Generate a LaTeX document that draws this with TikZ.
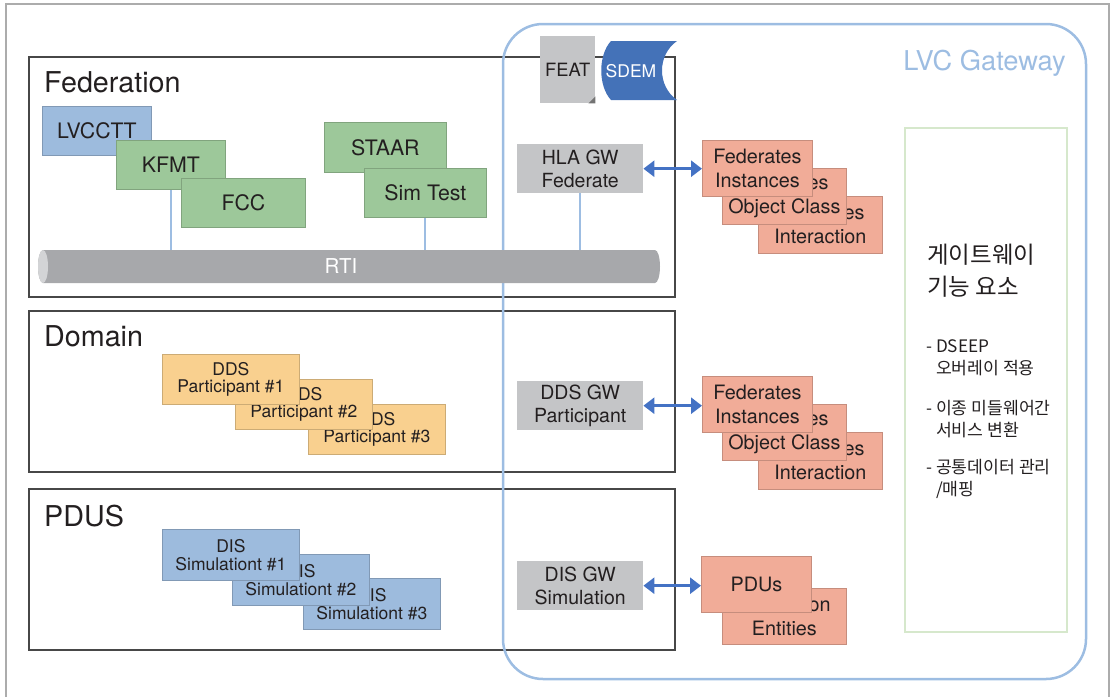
\documentclass[tikz,border=0pt]{standalone}
\usepackage{fontspec}
\setmainfont{TeX Gyre Heros}
\newfontfamily\kor{Noto Sans CJK KR}
\usetikzlibrary{arrows.meta}
\definecolor{ink}{HTML}{231F20}
\definecolor{lvcblue}{HTML}{9DBDE2}
\definecolor{cardblue}{HTML}{9DBBDD}
\definecolor{cardgreen}{HTML}{9DC89A}
\definecolor{cardorange}{HTML}{F9D08F}
\definecolor{salmon}{HTML}{F1AC98}
\definecolor{gwgray}{HTML}{C4C5C7}
\definecolor{rtigray}{HTML}{A7A8AB}
\definecolor{rtiend}{HTML}{D3D4D6}
\definecolor{arrowblue}{HTML}{4472C4}
\definecolor{sdemblue}{HTML}{4472B8}
\definecolor{panelgreen}{HTML}{D6E8CC}
\newcommand{\card}[6]{\node[#1,anchor=north west,minimum width=#4,minimum height=#5] (#2) at (#3) {#6};}

\begin{document}
\begin{tikzpicture}[x=1pt,y=-1pt,
  card/.style={draw=#1!82!black,fill=#1,line width=0.8pt,inner sep=0pt,align=center,text=ink},
  bigcard/.style={card=#1,font=\fontsize{21.3}{24}\selectfont},
  smallcard/.style={card=#1,font=\fontsize{17.5}{17.5}\selectfont},
  salm/.style={card=salmon,font=\fontsize{19.8}{24}\selectfont},
  gw/.style={fill=gwgray,inner sep=0pt,align=center,text=ink,font=\fontsize{19.5}{23}\selectfont},
  title/.style={anchor=base west,inner sep=0pt,text=ink,font=\fontsize{28.7}{30}\selectfont},
  secline/.style={black!72,line width=1.3pt},
  link/.style={lvcblue,line width=2pt},
  gwarrow/.style={arrowblue,line width=2.7pt,{Triangle[width=16pt,length=11pt]}-{Triangle[width=16pt,length=11pt]}},
  kortext/.style={inner sep=0pt,align=left,text=ink,font=\kor\fontsize{17.2}{22}\selectfont}]
\useasboundingbox (0,0) rectangle (1117,697);
% frame and sections
\draw[gray!65,line width=1.5pt] (6,697) -- (6,4) -- (1109,4) -- (1109,697);
\foreach \t/\b in {57/297,311/472,489/650}\draw[secline] (29,\t) rectangle (675,\b);
\draw[lvcblue,line width=2.5pt,rounded corners=40pt] (503,24) rectangle (1086,679);
\node[title] (federation) at (44,92) {Federation};
\node[title] (domain) at (44,346) {Domain};
\node[title] (pdus) at (44,526) {PDUS};
\node[anchor=base east,inner sep=0pt,text=lvcblue,font=\fontsize{27.3}{30}\selectfont] (lvc) at (1066,70) {LVC Gateway};

% federation members
\card{bigcard=cardblue}{lvcctt}{42,106}{109}{49}{LVCCTT}
\card{bigcard=cardgreen}{kfmt}{116,140}{109}{49}{KFMT}
\card{bigcard=cardgreen}{fcc}{181,178}{124}{49}{FCC}
\card{bigcard=cardgreen}{staar}{324,122}{122}{50}{STAAR}
\card{bigcard=cardgreen}{simtest}{364,168}{122}{49}{Sim Test}

% gateway blocks
\card{gw}{hla}{517,144}{126}{49}{HLA GW\\Federate}
\card{gw}{dds}{517,381}{126}{49}{DDS GW\\Participant}
\card{gw}{dis}{517,561}{126}{49}{DIS GW\\Simulation}
\card{fill=gwgray,inner sep=0pt,text=ink,font=\fontsize{18.3}{20}\selectfont}{feat}{540,36}{55}{67}{FEAT}
\fill[black!55] (feat.south east) -- ++(-7,0) -- ++(7,-7) -- cycle;
\fill[sdemblue] (611,41) -- (677,41) .. controls (657,55) and (657,86) .. (677,100) -- (611,100) .. controls (598,86) and (598,55) .. (611,41);
\node[text=white,inner sep=0pt,font=\fontsize{17.5}{20}\selectfont] (sdem) at (631,71) {SDEM};

% RTI
\fill[rtigray] (43,250) -- (655,250) arc[start angle=-90,end angle=90,x radius=5,y radius=16.5] -- (43,283) arc[start angle=90,end angle=270,x radius=5,y radius=16.5] -- cycle;
\fill[rtiend] (43,266.5) ellipse[x radius=5,y radius=16.5];
\node[text=white,inner sep=0pt,minimum height=33pt,font=\fontsize{20.5}{22}\selectfont] (rti) at (341,266.5) {RTI};
\foreach \n in {kfmt,simtest,hla}\draw[link] (\n.south) -- (\n.south |- rti.north);

% domain and pdus members
\foreach \i/\x/\y in {3/308/404,2/235/379,1/162/354}{
  \card{smallcard=cardorange}{part\i}{\x,\y}{137}{50}{DDS\\Participant \#\i}
}
\foreach \i/\x/\y in {3/303/578,2/232/554,1/162/529}{
  \card{smallcard=cardblue}{sim\i}{\x,\y}{137}{51}{DIS\\Simulationt \#\i}
}

% mapped objects
\foreach \r/\y in {hla/140,dds/376}{
  \card{salm}{\r-int}{758,\y+56}{124}{57}{Federates\\Interaction}
  \card{salm}{\r-obj}{722,\y+28}{124}{56}{Federates\\Object Class}
  \card{salm}{\r-inst}{702,\y}{110}{56}{Federates\\Instances}
  \draw[gwarrow] (\r.east) -- (\r.east -| \r-inst.west);
}
\card{salm}{dis-ent}{722,588}{124}{56}{Simulation\\Entities}
\card{salm}{dis-pdu}{701,556}{110}{56}{PDUs}
\draw[gwarrow] (dis.east) -- (dis.east -| dis-pdu.west);

% gateway functions
\draw[panelgreen,line width=2pt] (905,128) rectangle (1067,632);
\node[kortext,anchor=west,font=\kor\fontsize{23.5}{32}\selectfont] (func) at (927,271) {게이트웨이\\기능 요소};
\node[kortext,anchor=west] (item1) at (926,357.5) {- DSEEP\\\hphantom{- }오버레이 적용};
\node[kortext,anchor=west] (item2) at (926,419) {- 이종 미들웨어간\\\hphantom{- }서비스 변환};
\node[kortext,anchor=west] (item3) at (926,479) {- 공통데이터 관리\\\hphantom{- }/매핑};
\end{tikzpicture}
\end{document}
